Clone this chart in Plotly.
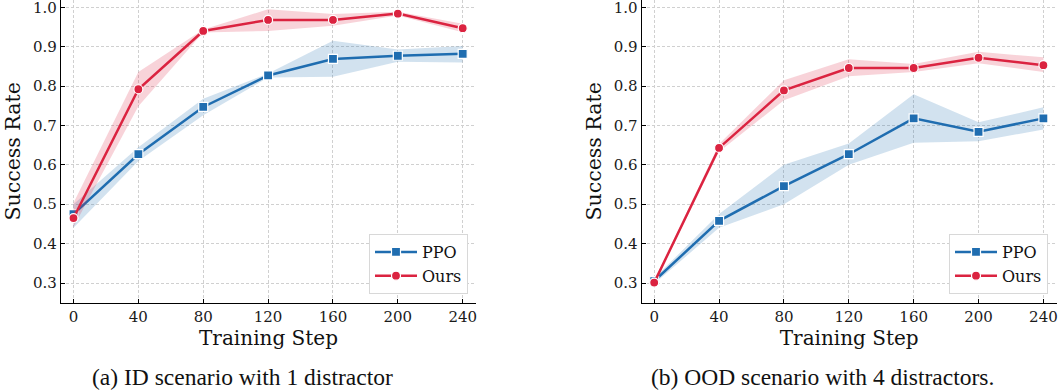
import plotly.graph_objects as go

steps = [0, 40, 80, 120, 160, 200, 240]
x_ticks = [0, 40, 80, 120, 160, 200, 240]
y_ticks = [0.3, 0.4, 0.5, 0.6, 0.7, 0.8, 0.9, 1.0]

# (a) ID scenario
id_ppo_mean = [0.475, 0.627, 0.747, 0.827, 0.869, 0.877, 0.882]
id_ppo_lo = [0.440, 0.610, 0.726, 0.822, 0.824, 0.862, 0.860]
id_ppo_hi = [0.500, 0.645, 0.768, 0.832, 0.915, 0.893, 0.902]
id_ours_mean = [0.465, 0.792, 0.940, 0.968, 0.968, 0.984, 0.947]
id_ours_lo = [0.442, 0.749, 0.936, 0.940, 0.953, 0.979, 0.937]
id_ours_hi = [0.503, 0.836, 0.944, 0.995, 0.983, 0.989, 0.958]

# (b) OOD scenario
ood_ppo_mean = [0.305, 0.458, 0.546, 0.627, 0.718, 0.684, 0.718]
ood_ppo_lo = [0.298, 0.440, 0.500, 0.600, 0.656, 0.660, 0.690]
ood_ppo_hi = [0.312, 0.475, 0.600, 0.654, 0.779, 0.708, 0.746]
ood_ours_mean = [0.301, 0.643, 0.789, 0.846, 0.846, 0.872, 0.853]
ood_ours_lo = [0.298, 0.633, 0.764, 0.825, 0.836, 0.858, 0.836]
ood_ours_hi = [0.305, 0.653, 0.815, 0.868, 0.856, 0.887, 0.873]

captions = ["(a) ID scenario with 1 distractor", "(b) OOD scenario with 4 distractors."]

BLUE = "#1f6db0"
RED = "#db2340"
BLUE_FILL = "rgba(31,109,176,0.2)"
RED_FILL = "rgba(219,35,64,0.2)"
SERIF = "DejaVu Serif"

fig = go.Figure()


def add_series(xa, ya, mean, lo, hi, color, fill, symbol, name, legend, rank):
    fig.add_trace(go.Scatter(x=steps, y=hi, xaxis=xa, yaxis=ya, mode="lines",
                             line=dict(width=0, color=fill), hoverinfo="skip",
                             showlegend=False))
    fig.add_trace(go.Scatter(x=steps, y=lo, xaxis=xa, yaxis=ya, mode="lines",
                             line=dict(width=0, color=fill), fill="tonexty",
                             fillcolor=fill, hoverinfo="skip", showlegend=False))
    fig.add_trace(go.Scatter(x=steps, y=mean, xaxis=xa, yaxis=ya, mode="lines+markers",
                             name=name, legend=legend, showlegend=True, legendrank=rank,
                             line=dict(color=color, width=2.5),
                             marker=dict(symbol=symbol, size=9, color=color,
                                         line=dict(color="white", width=1.2))))


add_series("x", "y", id_ppo_mean, id_ppo_lo, id_ppo_hi, BLUE, BLUE_FILL, "square", "PPO", "legend", 1)
add_series("x", "y", id_ours_mean, id_ours_lo, id_ours_hi, RED, RED_FILL, "circle", "Ours", "legend", 2)
add_series("x2", "y2", ood_ppo_mean, ood_ppo_lo, ood_ppo_hi, BLUE, BLUE_FILL, "square", "PPO", "legend2", 1)
add_series("x2", "y2", ood_ours_mean, ood_ours_lo, ood_ours_hi, RED, RED_FILL, "circle", "Ours", "legend2", 2)

W, H = 1060, 391

axis_common = dict(
    showline=True, linecolor="black", linewidth=1.3,
    ticks="inside", ticklen=4, tickwidth=1, tickcolor="black",
    showgrid=True, gridcolor="#d0d0d0", gridwidth=0.8, griddash="3px,2px",
    zeroline=False, tickfont=dict(family=SERIF, size=15, color="#1a1a1a"),
    mirror=False, automargin=False,
)

xdef = dict(axis_common, range=[-7.7, 248.2], tickvals=x_ticks,
            title=dict(text="Training Step", font=dict(family=SERIF, size=20, color="#111"), standoff=2))
ydef = dict(axis_common, range=[0.25, 1.0186], tickvals=y_ticks,
            tickformat=".1f", ticklabeloverflow="allow",
            title=dict(text="Success Rate", font=dict(family=SERIF, size=20.5, color="#111"), standoff=6))

bottom = 1 - 302.7 / H

leg_common = dict(y=1 - 294 / H, xanchor="right", yanchor="bottom",
                  bgcolor="white", bordercolor="#d8d8d8", borderwidth=1,
                  font=dict(family=SERIF, size=16, color="#111"),
                  traceorder="normal", tracegroupgap=2, itemwidth=42)

fig.update_layout(
    width=W, height=H,
    margin=dict(l=0, r=0, t=0, b=0, autoexpand=False),
    paper_bgcolor="white", plot_bgcolor="white",
    xaxis=dict(xdef, domain=[61 / W, 476 / W], anchor="y"),
    yaxis=dict(ydef, domain=[bottom, 1.0], anchor="x"),
    xaxis2=dict(xdef, domain=[641.7 / W, 1056.7 / W], anchor="y2"),
    yaxis2=dict(ydef, domain=[bottom, 1.0], anchor="x2"),
    legend=dict(leg_common, x=468 / W),
    legend2=dict(leg_common, x=1048 / W),
    showlegend=True,
)

fig.add_annotation(text=captions[0], x=242 / W, y=1 - 377 / H,
                   xref="paper", yref="paper", showarrow=False,
                   xanchor="center", yanchor="middle",
                   font=dict(family="Liberation Serif", size=23.5, color="#111"))
fig.add_annotation(text=captions[1], x=822 / W, y=1 - 377 / H,
                   xref="paper", yref="paper", showarrow=False,
                   xanchor="center", yanchor="middle",
                   font=dict(family="Liberation Serif", size=23.5, color="#111"))

fig.write_html("out.html", config={"displayModeBar": False},
               post_script="document.body.style.margin='0';")
